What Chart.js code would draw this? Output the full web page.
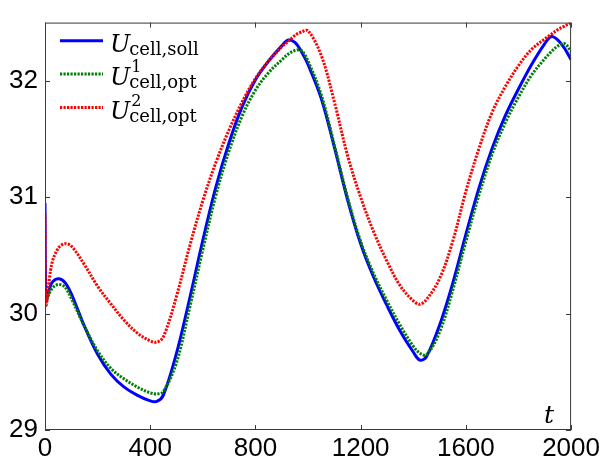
<!DOCTYPE html>
<html>
<head>
<meta charset="utf-8">
<script src="https://cdn.jsdelivr.net/npm/chart.js@4.4.1/dist/chart.umd.min.js"></script>
<style>
  html, body { margin: 0; padding: 0; background: #fff; }
  #wrap { width: 603px; height: 461px; }
</style>
</head>
<body>
<div id="wrap"><canvas id="chart" width="603" height="461"></canvas></div>
<script>
// time samples (s) shared by all three voltage traces
const tValues = [0, 4, 25, 50, 75, 100, 150, 200, 250, 300, 350, 400, 425, 450, 500, 550, 600, 650, 700, 750,
  800, 850, 900, 925, 950, 975, 1000, 1050, 1100, 1150, 1200, 1250, 1300, 1350, 1400, 1425, 1450, 1500, 1550,
  1600, 1650, 1700, 1750, 1800, 1850, 1900, 1925, 1950, 1975, 2000];

const uSoll = [30.95, 30.12, 30.26, 30.30, 30.27, 30.17, 29.89, 29.65, 29.48, 29.37, 29.30, 29.25, 29.245, 29.30, 29.66, 30.13, 30.63, 31.09, 31.47, 31.78,
  32.01, 32.17, 32.30, 32.35, 32.33, 32.25, 32.14, 31.85, 31.43, 30.98, 30.60, 30.31, 30.07, 29.85, 29.67, 29.60, 29.63, 29.90, 30.26,
  30.68, 31.08, 31.42, 31.70, 31.93, 32.14, 32.32, 32.38, 32.35, 32.28, 32.18];

const uOpt1 = [30.06, 30.10, 30.21, 30.25, 30.23, 30.13, 29.89, 29.68, 29.53, 29.44, 29.37, 29.32, 29.31, 29.33, 29.58, 30.05, 30.55, 31.02, 31.40, 31.70,
  31.92, 32.07, 32.18, 32.23, 32.26, 32.26, 32.17, 31.88, 31.45, 31.00, 30.62, 30.34, 30.11, 29.90, 29.72, 29.66, 29.645, 29.84, 30.20,
  30.62, 31.02, 31.37, 31.64, 31.86, 32.05, 32.19, 32.25, 32.30, 32.32, 32.25];

const uOpt2 = [30.86, 30.08, 30.42, 30.56, 30.60, 30.58, 30.42, 30.235, 30.085, 29.945, 29.835, 29.765, 29.755, 29.80, 30.15, 30.58, 30.97, 31.30, 31.58, 31.82,
  32.02, 32.17, 32.29, 32.34, 32.39, 32.42, 32.43, 32.22, 31.82, 31.36, 31.00, 30.70, 30.45, 30.24, 30.11, 30.08, 30.12, 30.30, 30.62,
  31.05, 31.42, 31.73, 31.95, 32.13, 32.27, 32.36, 32.40, 32.44, 32.47, 32.50];

const xTickValues = [0, 400, 800, 1200, 1600, 2000];
const yTickValues = [29, 30, 31, 32];

// legend labels: U with subscript / superscript
const legendLabels = [
  { main: 'U', sub: 'cell,soll', sup: '' },
  { main: 'U', sub: 'cell,opt', sup: '1' },
  { main: 'U', sub: 'cell,opt', sup: '2' }
];

const toPoints = vals => tValues.map((t, i) => ({ x: t, y: vals[i] }));

const series = [
  { data: uSoll, color: '#0000ff', dash: [], order: 2 },
  { data: uOpt1, color: '#008000', dash: [2.2, 1.3], order: 1 },
  { data: uOpt2, color: '#ff0000', dash: [2.2, 1.3], order: 0 }
];

const tickFont = { family: '"Liberation Sans", Arial, sans-serif', size: 26 };

// box frame, inward ticks, legend and axis letter
const framePlugin = {
  id: 'frame',
  afterDatasetsDraw(chart) {
    const { ctx, chartArea: a, scales } = chart;
    ctx.save();
    ctx.strokeStyle = '#3a3a3a';
    ctx.lineWidth = 1;
    ctx.strokeRect(a.left + 0.5, a.top + 0.5, a.right - a.left - 1, a.bottom - a.top - 1);

    const len = 5;
    ctx.beginPath();
    xTickValues.forEach(v => {
      const x = Math.round(scales.x.getPixelForValue(v)) + 0.5;
      ctx.moveTo(x, a.bottom); ctx.lineTo(x, a.bottom - len);
      ctx.moveTo(x, a.top); ctx.lineTo(x, a.top + len);
    });
    yTickValues.forEach(v => {
      const y = Math.round(scales.y.getPixelForValue(v)) + 0.5;
      ctx.moveTo(a.left, y); ctx.lineTo(a.left + len, y);
      ctx.moveTo(a.right, y); ctx.lineTo(a.right - len, y);
    });
    ctx.stroke();

    // legend
    ctx.textBaseline = 'alphabetic';
    ctx.textAlign = 'left';
    legendLabels.forEach((lab, i) => {
      const s = series[i];
      const ly = 40.7 + 33.4 * i;
      ctx.beginPath();
      ctx.strokeStyle = s.color;
      ctx.lineWidth = 3;
      ctx.setLineDash(s.dash);
      ctx.moveTo(60, ly);
      ctx.lineTo(103, ly);
      ctx.stroke();
      ctx.setLineDash([]);

      ctx.fillStyle = '#000';
      const base = ly + 11;
      ctx.font = 'italic 24px "DejaVu Serif", serif';
      ctx.fillText(lab.main, 110, base);
      const xs = 110 + ctx.measureText(lab.main).width;
      ctx.font = '18px "DejaVu Serif", serif';
      ctx.fillText(lab.sub, xs - 1, base + 3);
      if (lab.sup) {
        ctx.font = '16px "DejaVu Serif", serif';
        ctx.fillText(lab.sup, xs + 1, base - 13);
      }
    });

    ctx.font = 'italic 25px "DejaVu Serif", serif';
    ctx.fillText('t', 544, 423);
    ctx.restore();
  }
};

new Chart(document.getElementById('chart'), {
  type: 'line',
  data: {
    datasets: series.map(s => ({
      data: toPoints(s.data),
      borderColor: s.color,
      borderWidth: 3,
      borderDash: s.dash,
      pointRadius: 0,
      fill: false,
      tension: 0.35,
      order: s.order
    }))
  },
  options: {
    responsive: false,
    animation: false,
    layout: { padding: { top: 14, right: 31, left: 0, bottom: 0 } },
    plugins: { legend: { display: false }, tooltip: { enabled: false } },
    scales: {
      x: {
        type: 'linear',
        min: 0,
        max: 2000,
        afterBuildTicks: scale => { scale.ticks = xTickValues.map(v => ({ value: v })); },
        afterFit: scale => { scale.height = 31; },
        grid: { display: false, drawTicks: false },
        border: { display: false },
        ticks: { color: '#000', font: tickFont, padding: 3, maxRotation: 0, callback: v => String(v) }
      },
      y: {
        type: 'linear',
        min: 29,
        max: 32.5,
        afterBuildTicks: scale => { scale.ticks = yTickValues.map(v => ({ value: v })); },
        afterFit: scale => { scale.width = 45; },
        grid: { display: false, drawTicks: false },
        border: { display: false },
        ticks: { color: '#000', font: tickFont, padding: 7, callback: v => String(v) }
      }
    }
  },
  plugins: [framePlugin]
});
</script>
</body>
</html>
